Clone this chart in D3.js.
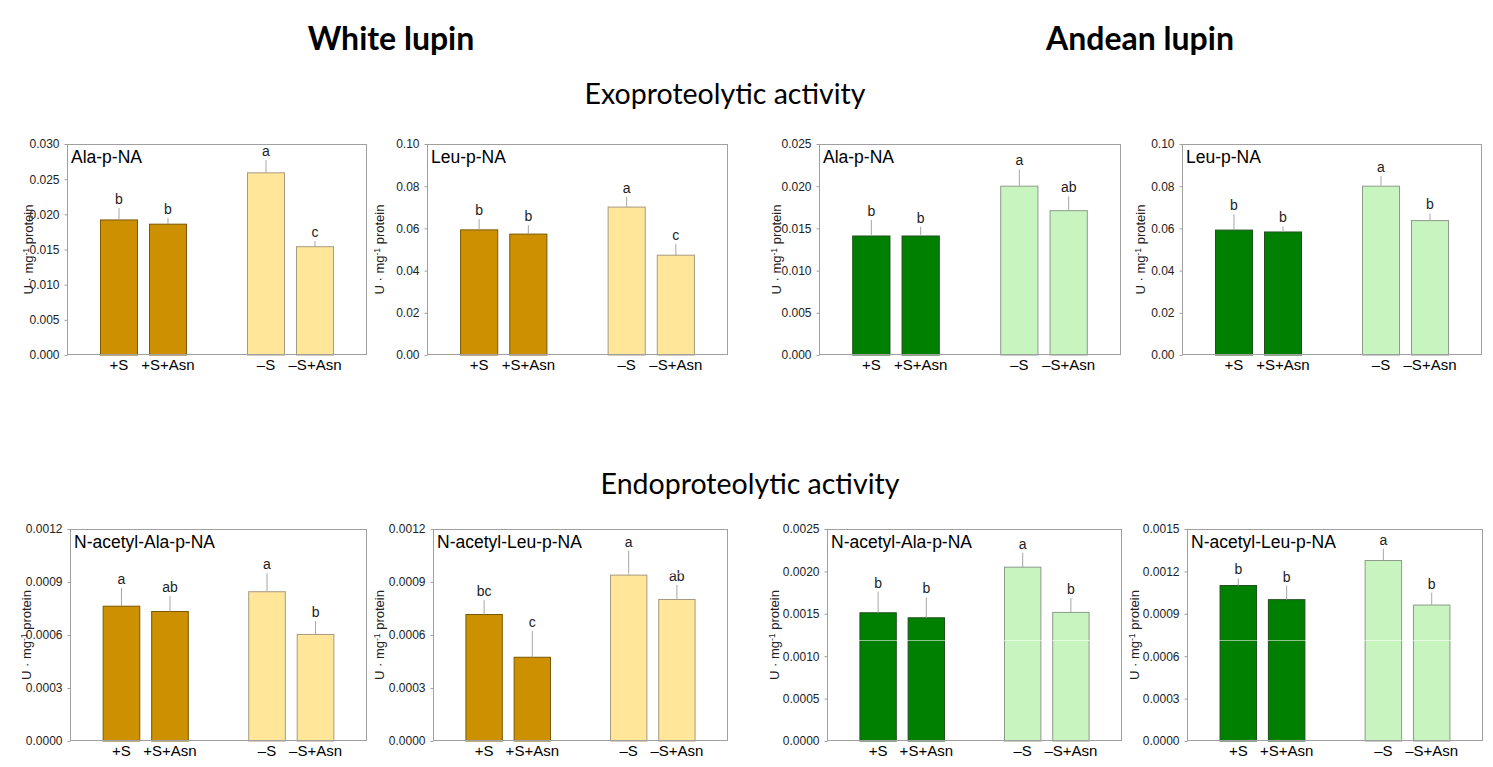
<!DOCTYPE html>
<html>
<head>
<meta charset="utf-8">
<script src="https://cdn.jsdelivr.net/npm/d3@7/dist/d3.min.js"></script>
<style>
  html, body { margin: 0; padding: 0; background: #fff; }
  svg { display: block; font-family: "Liberation Sans", Arial, sans-serif; }
</style>
</head>
<body>
<svg id="chart" width="1493" height="767"></svg>
<script>
// ---------------- DATA ----------------
const categories = ["+S", "+S+Asn", "–S", "–S+Asn"];

// White lupin – exoproteolytic
const wlAlaMean = [0.0192, 0.0186, 0.0259, 0.0154];
const wlAlaErr  = [0.0017, 0.0009, 0.0018, 0.0008];
const wlAlaSig  = ["b", "b", "a", "c"];
const wlLeuMean = [0.0593, 0.0573, 0.0701, 0.0473];
const wlLeuErr  = [0.0051, 0.0043, 0.0049, 0.0054];
const wlLeuSig  = ["b", "b", "a", "c"];
// Andean lupin – exoproteolytic
const alAlaMean = [0.0141, 0.0141, 0.0200, 0.0171];
const alAlaErr  = [0.0019, 0.0011, 0.0020, 0.0017];
const alAlaSig  = ["b", "b", "a", "ab"];
const alLeuMean = [0.0592, 0.0583, 0.0800, 0.0637];
const alLeuErr  = [0.0075, 0.0027, 0.0048, 0.0034];
const alLeuSig  = ["b", "b", "a", "b"];
// White lupin – endoproteolytic
const wlNAlaMean = [0.000763, 0.000733, 0.000845, 0.000603];
const wlNAlaErr  = [0.000104, 0.000087, 0.000107, 0.000075];
const wlNAlaSig  = ["a", "ab", "a", "b"];
const wlNLeuMean = [0.000716, 0.000474, 0.000939, 0.000801];
const wlNLeuErr  = [0.000081, 0.000150, 0.000138, 0.000083];
const wlNLeuSig  = ["bc", "c", "a", "ab"];
// Andean lupin – endoproteolytic
const alNAlaMean = [0.001512, 0.001453, 0.002050, 0.001516];
const alNAlaErr  = [0.000250, 0.000240, 0.000170, 0.000170];
const alNAlaSig  = ["b", "b", "a", "b"];
const alNLeuMean = [0.001100, 0.001000, 0.001277, 0.000962];
const alNLeuErr  = [0.000050, 0.000100, 0.000083, 0.000088];
const alNLeuSig  = ["b", "b", "a", "b"];

// tick values
const ticksA030 = [0, 0.005, 0.010, 0.015, 0.020, 0.025, 0.030];
const ticksA025 = [0, 0.005, 0.010, 0.015, 0.020, 0.025];
const ticksL100 = [0, 0.02, 0.04, 0.06, 0.08, 0.10];
const ticksN0012 = [0, 0.0003, 0.0006, 0.0009, 0.0012];
const ticksN0025 = [0, 0.0005, 0.0010, 0.0015, 0.0020, 0.0025];
const ticksN0015 = [0, 0.0003, 0.0006, 0.0009, 0.0012, 0.0015];

const substrates = ["Ala-p-NA", "Leu-p-NA", "N-acetyl-Ala-p-NA", "N-acetyl-Leu-p-NA"];
const headings = ["White lupin", "Andean lupin"];
const sections = ["Exoproteolytic activity", "Endoproteolytic activity"];

// ---------------- STYLE / LAYOUT ----------------
const palettes = {
  white:  { dark: "#cc9000", darkStroke: "#7a5800", light: "#ffe699", lightStroke: "#a89a80" },
  andean: { dark: "#008000", darkStroke: "#1f4f1f", light: "#c7f4bf", lightStroke: "#8e9a8c" }
};

const panels = [
  { x: 67,   y: 144, w: 300, h: 211, mean: wlAlaMean, err: wlAlaErr, sig: wlAlaSig, ticks: ticksA030, fmt: ".3f", title: substrates[0], pal: "white",  lab: -34 },
  { x: 427,  y: 144, w: 301, h: 211, mean: wlLeuMean, err: wlLeuErr, sig: wlLeuSig, ticks: ticksL100, fmt: ".2f", title: substrates[1], pal: "white",  lab: -43 },
  { x: 819,  y: 144, w: 302, h: 211, mean: alAlaMean, err: alAlaErr, sig: alAlaSig, ticks: ticksA025, fmt: ".3f", title: substrates[0], pal: "andean", lab: -38 },
  { x: 1182, y: 144, w: 300, h: 211, mean: alLeuMean, err: alLeuErr, sig: alLeuSig, ticks: ticksL100, fmt: ".2f", title: substrates[1], pal: "andean", lab: -37 },
  { x: 70,   y: 529, w: 297, h: 212, mean: wlNAlaMean, err: wlNAlaErr, sig: wlNAlaSig, ticks: ticksN0012, fmt: ".4f", title: substrates[2], pal: "white",  lab: -39, art: 573 },
  { x: 433,  y: 529, w: 295, h: 212, mean: wlNLeuMean, err: wlNLeuErr, sig: wlNLeuSig, ticks: ticksN0012, fmt: ".4f", title: substrates[3], pal: "white",  lab: -49, art: 573 },
  { x: 827,  y: 529, w: 295, h: 212, mean: alNAlaMean, err: alNAlaErr, sig: alNAlaSig, ticks: ticksN0025, fmt: ".4f", title: substrates[2], pal: "andean", lab: -48, art: 640 },
  { x: 1187, y: 529, w: 296, h: 212, mean: alNLeuMean, err: alNLeuErr, sig: alNLeuSig, ticks: ticksN0015, fmt: ".4f", title: substrates[3], pal: "andean", lab: -48, art: 640 }
];

const svg = d3.select("#chart");
const headFont = "Lato, 'Open Sans', sans-serif";

// headings
svg.append("text").attr("x", 391).attr("y", 50).attr("text-anchor", "middle")
  .attr("font-family", headFont)
  .attr("font-size", 32).attr("font-weight", "bold").attr("fill", "#000").text(headings[0]);
svg.append("text").attr("x", 1140).attr("y", 50).attr("text-anchor", "middle")
  .attr("font-family", headFont)
  .attr("font-size", 32).attr("font-weight", "bold").attr("fill", "#000").text(headings[1]);
svg.append("text").attr("x", 725).attr("y", 104).attr("text-anchor", "middle")
  .attr("font-family", headFont)
  .attr("font-size", 28.5).attr("fill", "#000").text(sections[0]);
svg.append("text").attr("x", 750).attr("y", 494).attr("text-anchor", "middle")
  .attr("font-family", headFont)
  .attr("font-size", 28.5).attr("fill", "#000").text(sections[1]);

const slots = [categories[0], categories[1], "gap", categories[2], categories[3]];

panels.forEach(p => {
  const pal = palettes[p.pal];
  const g = svg.append("g");
  const yMax = p.ticks[p.ticks.length - 1];
  const y = d3.scaleLinear().domain([0, yMax]).range([p.y + p.h, p.y]);
  const x = d3.scaleBand().domain(slots).range([p.x, p.x + p.w])
    .paddingInner(0.2245).paddingOuter(0.673);

  const rows = categories.map((c, i) => ({ c, i, v: p.mean[i], e: p.err[i], s: p.sig[i] }));

  // bars
  g.selectAll("rect.bar").data(rows).join("rect")
    .attr("class", "bar")
    .attr("x", d => x(d.c) + 0.5)
    .attr("y", d => y(d.v))
    .attr("width", x.bandwidth() - 1)
    .attr("height", d => y(0) - y(d.v))
    .attr("fill", d => d.i < 2 ? pal.dark : pal.light)
    .attr("stroke", d => d.i < 2 ? pal.darkStroke : pal.lightStroke)
    .attr("stroke-width", 1);

  // error bars (upper only)
  g.selectAll("line.err").data(rows).join("line")
    .attr("class", "err")
    .attr("x1", d => x(d.c) + x.bandwidth() / 2)
    .attr("x2", d => x(d.c) + x.bandwidth() / 2)
    .attr("y1", d => y(d.v))
    .attr("y2", d => y(d.v + d.e))
    .attr("stroke", "#a6a6a6").attr("stroke-width", 1);

  // significance letters
  g.selectAll("text.sig").data(rows).join("text")
    .attr("class", "sig")
    .attr("x", d => x(d.c) + x.bandwidth() / 2)
    .attr("y", d => y(d.v + d.e) - 4)
    .attr("text-anchor", "middle")
    .attr("font-size", 14).attr("fill", "#222")
    .text(d => d.s);

  // image artefact line across lower panels
  if (p.art) {
    g.append("line").attr("x1", p.x + 1).attr("x2", p.x + p.w - 1)
      .attr("y1", p.art + 0.5).attr("y2", p.art + 0.5)
      .attr("stroke", "rgba(255,255,255,0.55)").attr("stroke-width", 1);
  }

  // frame
  g.append("rect").attr("x", p.x + 0.5).attr("y", p.y + 0.5)
    .attr("width", p.w - 1).attr("height", p.h - 1)
    .attr("fill", "none").attr("stroke", "#a0a0a0").attr("stroke-width", 1);

  // y axis
  const yAxis = d3.axisLeft(y).tickValues(p.ticks).tickFormat(d3.format(p.fmt))
    .tickSize(3).tickPadding(5);
  const ya = g.append("g").attr("transform", `translate(${p.x + 0.5},0)`).call(yAxis);
  ya.attr("font-size", 12).attr("font-family", "'Liberation Sans', Arial, sans-serif");
  ya.select(".domain").remove();
  ya.selectAll(".tick line").attr("stroke", "#a0a0a0");
  ya.selectAll(".tick text").attr("fill", "#222");

  // x axis labels
  const xAxis = d3.axisBottom(x).tickValues(categories).tickSize(0).tickPadding(4);
  const xa = g.append("g").attr("transform", `translate(0,${p.y + p.h})`).call(xAxis);
  xa.attr("font-size", 15).attr("font-family", "'Liberation Sans', Arial, sans-serif");
  xa.select(".domain").remove();
  xa.selectAll(".tick text").attr("fill", "#000");

  // panel title
  g.append("text").attr("x", p.x + 4).attr("y", p.y + 19)
    .attr("font-size", 17.5).attr("fill", "#000").text(p.title);

  // y label
  const cy = p.y + p.h / 2;
  const yl = g.append("text")
    .attr("transform", `translate(${p.x + p.lab},${cy}) rotate(-90)`)
    .attr("text-anchor", "middle").attr("font-size", 13).attr("fill", "#222");
  yl.append("tspan").text("U · mg");
  yl.append("tspan").attr("dy", -4).attr("font-size", 8.5).text("-1");
  yl.append("tspan").attr("dy", 4).text(" protein");
});
</script>
</body>
</html>
